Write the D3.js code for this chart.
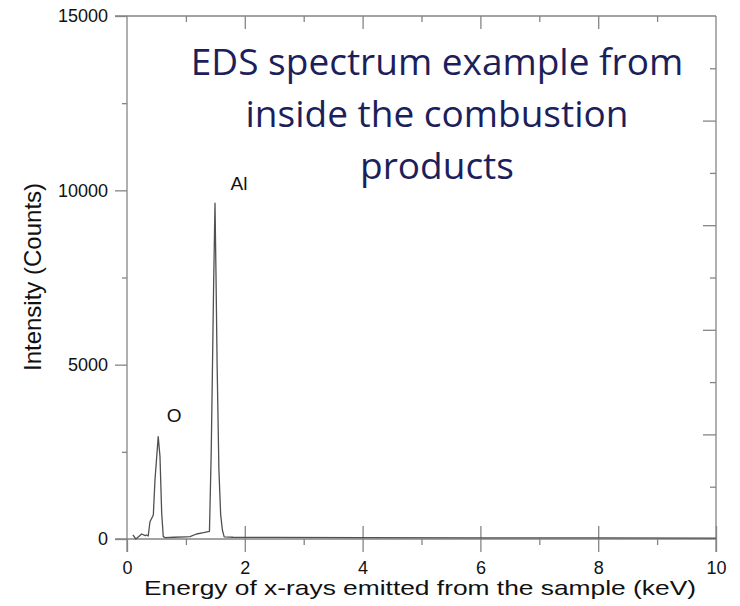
<!DOCTYPE html>
<html>
<head>
<meta charset="utf-8">
<script src="https://cdn.jsdelivr.net/npm/d3@7"></script>
<style>
  body { margin: 0; background: #fff; }
  svg { display: block; }
</style>
</head>
<body>
<svg width="740" height="606"></svg>
<script>
// spectrum (keV, counts)
var energia = [0.10, 0.15, 0.25, 0.31, 0.33, 0.36, 0.39, 0.447, 0.475, 0.53, 0.56, 0.589, 0.616,
               0.65, 0.80, 1.00, 1.07, 1.18, 1.30, 1.40, 1.43, 1.45, 1.47, 1.494, 1.51, 1.53,
               1.56, 1.59, 1.62, 1.65, 1.80, 2.5, 4, 6, 8, 10];
var contagens = [115, 0, 143, 95, 115, 86, 496, 690, 1693, 2935, 2361, 746, 66,
                 40, 50, 60, 66, 143, 180, 220, 2500, 4800, 7200, 9630, 7700, 5000,
                 2000, 700, 250, 60, 50, 45, 40, 35, 30, 25];

var xTicks = [0, 2, 4, 6, 8, 10];
var xMinor = [1, 3, 5, 7, 9];
var yTicks = [0, 5000, 10000, 15000];
var yMinor = [2500, 7500, 12500];
var rightMajor = [3000, 6000, 9000, 12000];
var rightMinor = [1500, 4500, 7500, 10500, 13500];

var picos = ["Al", "O"];
var picoE = [1.9, 0.8];
var picoC = [10000, 3350];

var titulo = ["EDS spectrum example from", "inside the combustion", "products"];

var svg = d3.select("svg"),
    margin = {top: 16, right: 24, bottom: 67, left: 127},
    width = +svg.attr("width") - margin.left - margin.right,
    height = +svg.attr("height") - margin.top - margin.bottom,
    g = svg.append("g").attr("transform", "translate(" + margin.left + "," + margin.top + ")");

var x = d3.scaleLinear().domain([0, 10]).range([0, width]);
var y = d3.scaleLinear().domain([0, 15000]).range([height, 0]);

var corEixo = "#858585";
var fonte = "'Liberation Sans', Arial, sans-serif";

// frame lines (left and bottom ones stick out a bit, like the original)
g.append("line").attr("x1", x(0)).attr("x2", x(0)).attr("y1", y(15000)).attr("y2", y(0) + 13);
g.append("line").attr("x1", x(0) - 12).attr("x2", x(10)).attr("y1", y(0)).attr("y2", y(0));
g.append("line").attr("x1", x(0) - 12).attr("x2", x(10)).attr("y1", y(15000)).attr("y2", y(15000));
g.append("line").attr("x1", x(10)).attr("x2", x(10)).attr("y1", y(15000)).attr("y2", y(0) + 13);
g.selectAll("line").attr("stroke", corEixo).attr("stroke-width", 1.3);

function eixo(gen, transform) {
    var a = g.append("g").attr("transform", transform || null).call(gen);
    a.select(".domain").remove();
    a.selectAll("line").attr("stroke", corEixo).attr("stroke-width", 1.3);
    a.selectAll("text").attr("fill", "#111").style("font-family", fonte).style("font-size", "18px");
    return a;
}

// bottom: labelled majors crossing the axis
eixo(d3.axisBottom(x).tickValues(xTicks).tickSize(13).tickPadding(9).tickFormat(d3.format("d")),
     "translate(0," + height + ")");
eixo(d3.axisTop(x).tickValues(xTicks.slice(1)).tickSize(13).tickFormat(""), "translate(0," + height + ")");
eixo(d3.axisBottom(x).tickValues(xMinor).tickSize(6).tickFormat(""), "translate(0," + height + ")");

// top: inward ticks
eixo(d3.axisBottom(x).tickValues(xTicks.slice(1, 5)).tickSize(13).tickFormat(""));
eixo(d3.axisBottom(x).tickValues(xMinor).tickSize(6).tickFormat(""));

// left
eixo(d3.axisLeft(y).tickValues(yTicks).tickSize(12).tickPadding(7).tickFormat(d3.format("d")));
eixo(d3.axisLeft(y).tickValues(yMinor).tickSize(5).tickFormat(""));

// right: inward ticks on its own spacing
eixo(d3.axisLeft(y).tickValues(rightMajor).tickSize(13).tickFormat(""), "translate(" + width + ",0)");
eixo(d3.axisLeft(y).tickValues(rightMinor).tickSize(6).tickFormat(""), "translate(" + width + ",0)");

// spectrum
var linha = d3.line()
    .x(function(d, i) { return x(energia[i]); })
    .y(function(d) { return y(d); });

g.append("path")
    .datum(contagens)
    .attr("fill", "none")
    .attr("stroke", "#505050")
    .attr("stroke-width", 1.3)
    .attr("stroke-linejoin", "round")
    .attr("d", linha);

// peak names
g.selectAll(".pico")
    .data(picos)
    .enter().append("text")
    .attr("class", "pico")
    .attr("x", function(d, i) { return x(picoE[i]); })
    .attr("y", function(d, i) { return y(picoC[i]); })
    .attr("text-anchor", "middle")
    .style("font-family", fonte)
    .style("font-size", "19px")
    .attr("fill", "#111")
    .text(function(d) { return d; });

// axis titles
g.append("text")
    .attr("x", width / 2 - 1.5)
    .attr("y", height + 56)
    .attr("text-anchor", "middle")
    .attr("textLength", 552)
    .attr("lengthAdjust", "spacingAndGlyphs")
    .style("font-family", fonte)
    .style("font-size", "21px")
    .attr("fill", "#111")
    .text("Energy of x-rays emitted from the sample (keV)");

g.append("text")
    .attr("transform", "translate(-86," + (height / 2 - 0.5) + ") rotate(-90)")
    .attr("text-anchor", "middle")
    .style("font-family", fonte)
    .style("font-size", "24px")
    .attr("fill", "#111")
    .text("Intensity (Counts)");

// title block over the plot
svg.selectAll(".titulo")
    .data(titulo)
    .enter().append("text")
    .attr("class", "titulo")
    .attr("x", 437)
    .attr("y", function(d, i) { return 75 + i * 52; })
    .attr("text-anchor", "middle")
    .style("font-family", "'Open Sans', sans-serif")
    .style("font-size", "37px")
    .attr("fill", "#1c1f5b")
    .text(function(d) { return d; });
</script>
</body>
</html>
